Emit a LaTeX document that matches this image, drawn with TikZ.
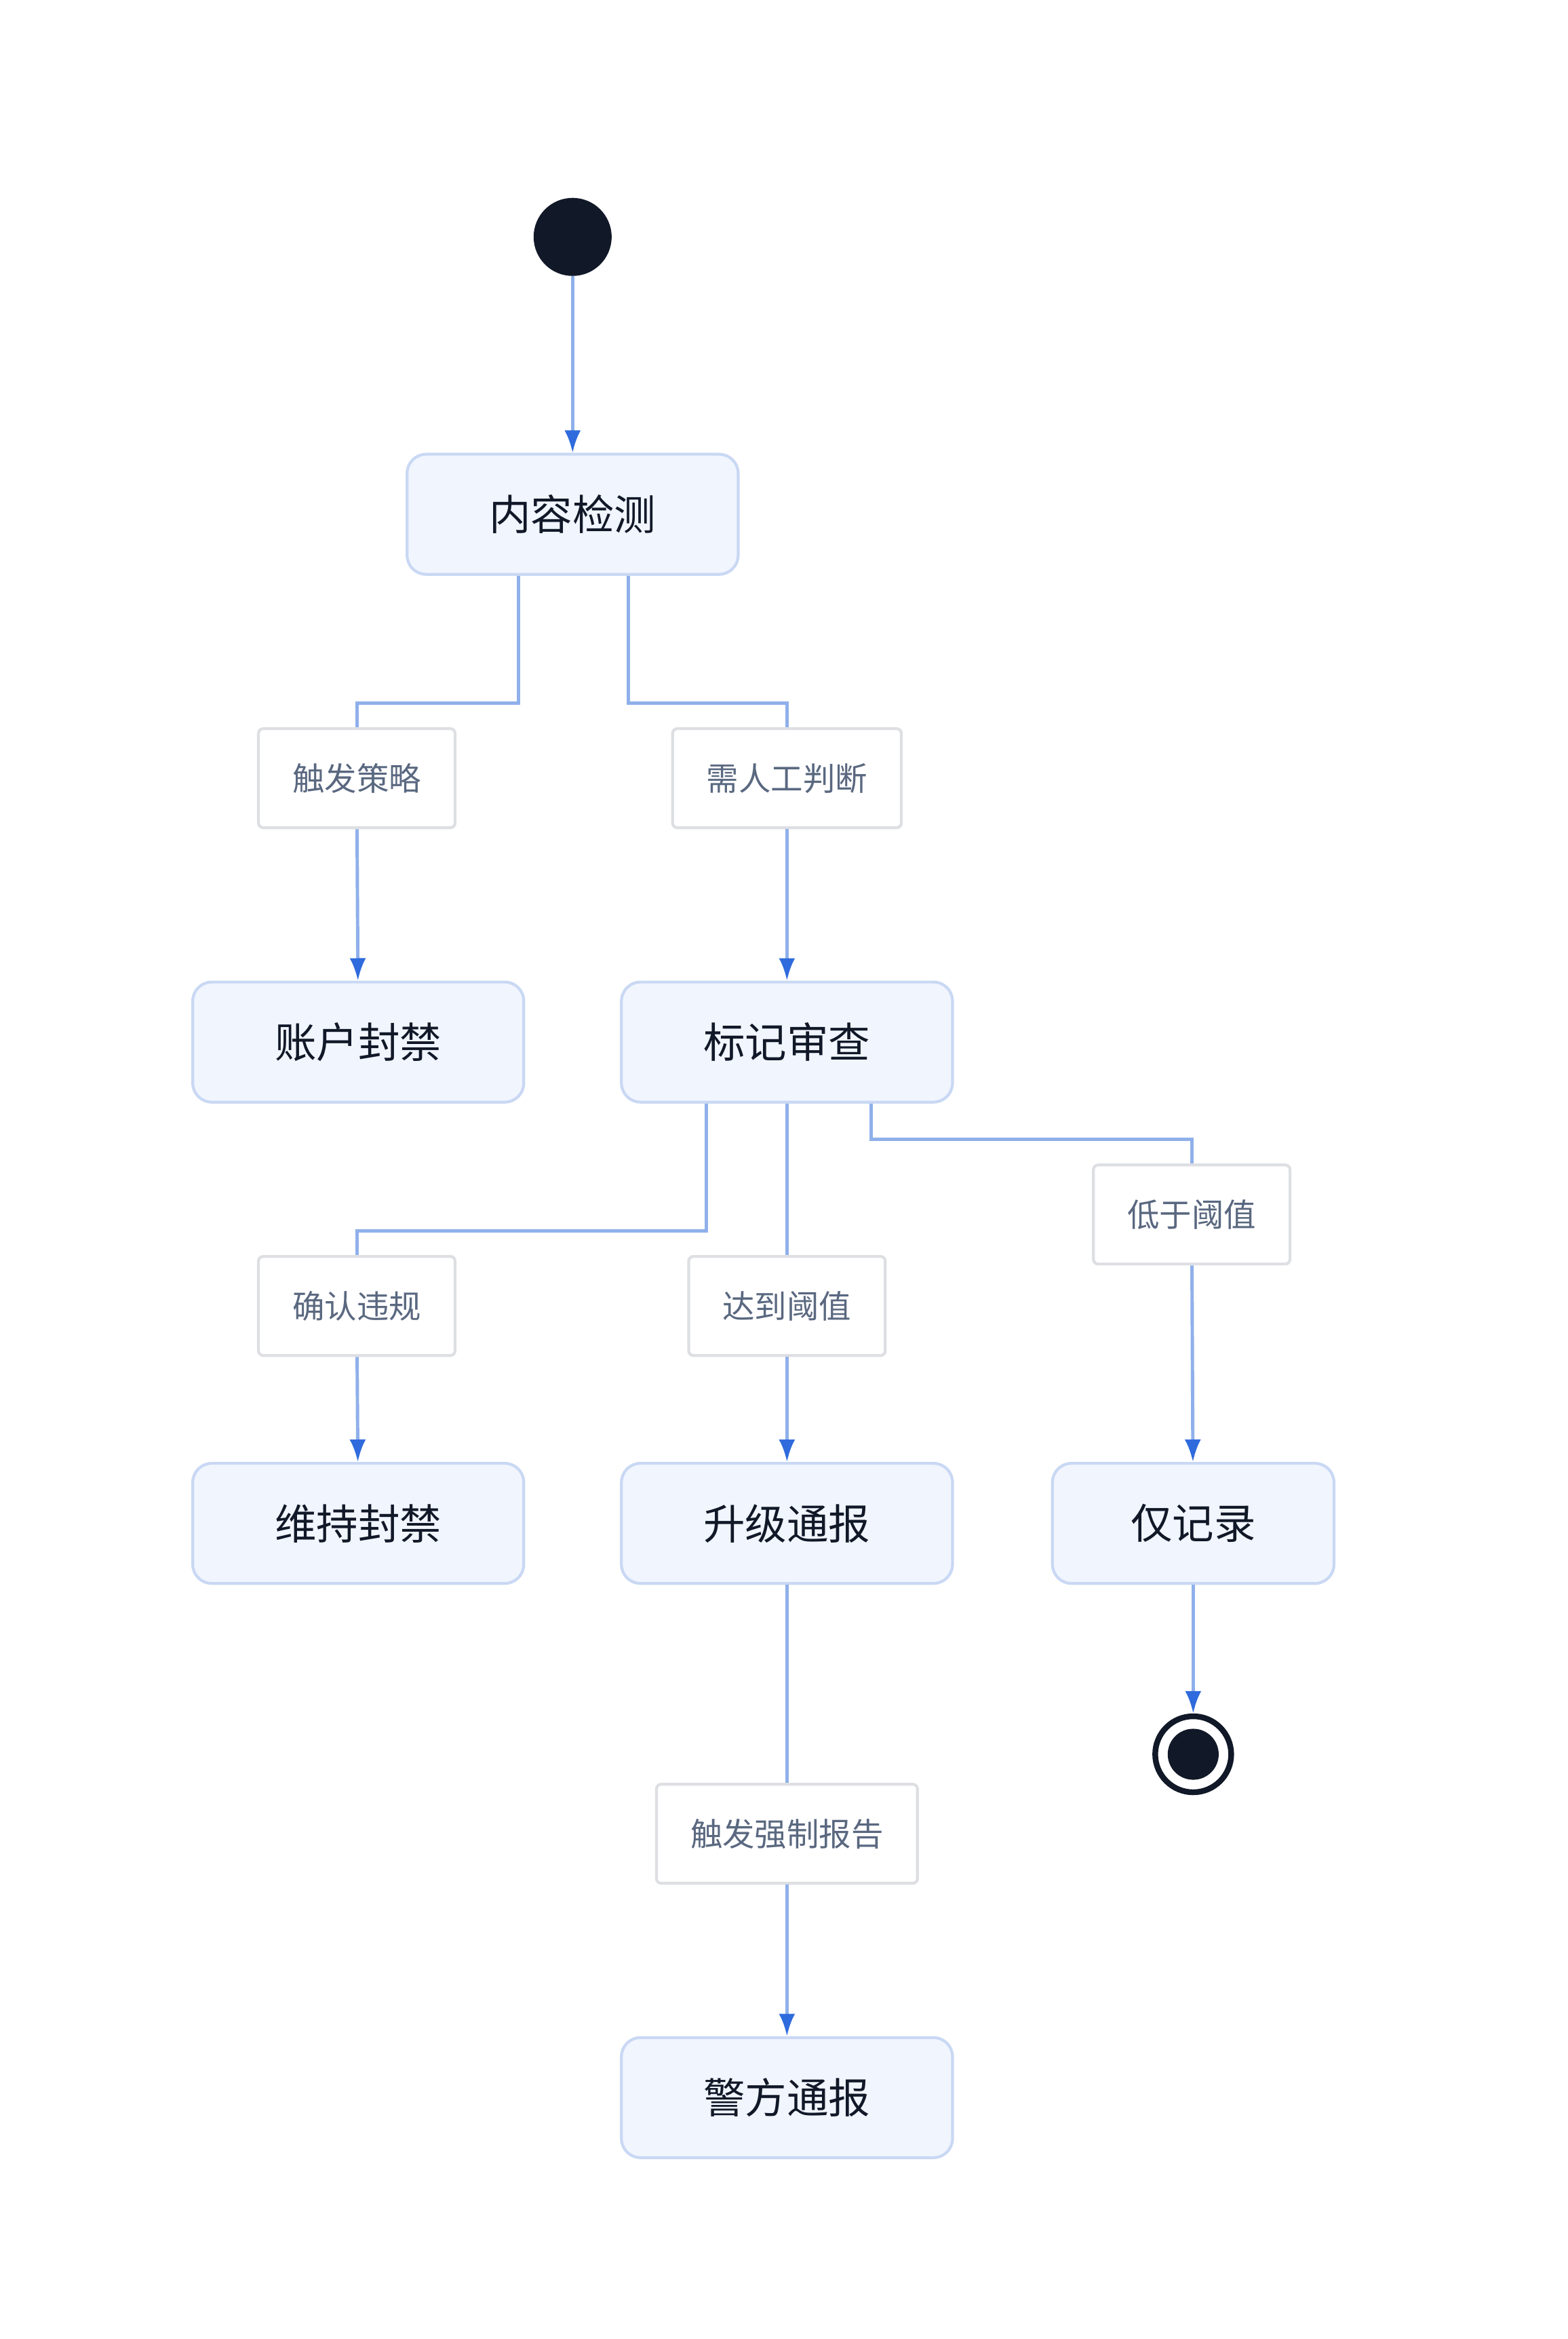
\documentclass[tikz,border=0pt]{standalone}
\usepackage{fontspec}
\setmainfont{Noto Sans CJK SC}
\usetikzlibrary{arrows.meta,calc}
\definecolor{linec}{HTML}{8FB0EA}
\definecolor{tipc}{HTML}{2F6BDC}
\definecolor{boxfill}{HTML}{F1F5FE}
\definecolor{boxdraw}{HTML}{C9D8F3}
\definecolor{labdraw}{HTML}{DDDFE3}
\definecolor{labtext}{HTML}{5A6880}
\definecolor{ink}{HTML}{111827}
\tikzset{
  state/.style={draw=boxdraw, fill=boxfill, rounded corners=8pt, line width=1.2pt,
    minimum width=4.88cm, minimum height=1.77cm, text=ink, font=\fontsize{17.5}{20}\selectfont},
  guard/.style={draw=labdraw, fill=white, rounded corners=2pt, line width=1.2pt,
    minimum height=1.46cm, inner xsep=0.5cm, text=labtext, font=\fontsize{13.5}{16}\selectfont},
  flow/.style={draw=linec, line width=1.4pt},
  arr/.style={flow, -{Latex[length=0.33cm, width=0.24cm, color=tipc]}}
}
\begin{document}
\begin{tikzpicture}[x=0.0221cm, y=-0.0221cm]
\useasboundingbox (0,0) rectangle (1046,1560);
% start and end
\node[circle, fill=ink, minimum size=1.15cm, inner sep=0pt] (start) at (382,158) {};
\node[circle, draw=ink, line width=2.4pt, fill=white, minimum size=1.12cm, inner sep=0pt] (stop) at (796,1170) {};
\fill[ink] (stop) circle (17);
% states
\node[state] (detect) at (382,343) {内容检测};
\node[state] (ban) at (239,695) {账户封禁};
\node[state] (review) at (525,695) {标记审查};
\node[state] (keep) at (239,1016) {维持封禁};
\node[state] (escal) at (525,1016) {升级通报};
\node[state, minimum width=4.15cm] (logonly) at (796,1016) {仅记录};
\node[state] (police) at (525,1399) {警方通报};
% guards
\node[guard] (gpolicy) at (238,519) {触发策略};
\node[guard] (gmanual) at (525,519) {需人工判断};
\node[guard] (gconfirm) at (238,871) {确认违规};
\node[guard] (greach) at (525,871) {达到阈值};
\node[guard] (gbelow) at (795,810) {低于阈值};
\node[guard] (greport) at (525,1223) {触发强制报告};
% connectors
\draw[arr] (start) -- (detect);
\draw[flow] ($(detect.south)+(-36,0)$) |- ($(gpolicy.north)+(0,-16)$) -- (gpolicy.north);
\draw[flow] ($(detect.south)+(37,0)$) |- ($(gmanual.north)+(0,-16)$) -- (gmanual.north);
\draw[arr] (gpolicy) -- (ban);
\draw[arr] (gmanual) -- (review);
\draw[flow] ($(review.south)+(-54,0)$) |- ($(gconfirm.north)+(0,-16)$) -- (gconfirm.north);
\draw[flow] (review) -- (greach);
\draw[flow] ($(review.south)+(56,0)$) |- ($(gbelow.north)+(0,-16)$) -- (gbelow.north);
\draw[arr] (gconfirm) -- (keep);
\draw[arr] (greach) -- (escal);
\draw[arr] (gbelow) -- (logonly);
\draw[arr] (logonly) -- (stop);
\draw[flow] (escal) -- (greport);
\draw[arr] (greport) -- (police);
\end{tikzpicture}
\end{document}
